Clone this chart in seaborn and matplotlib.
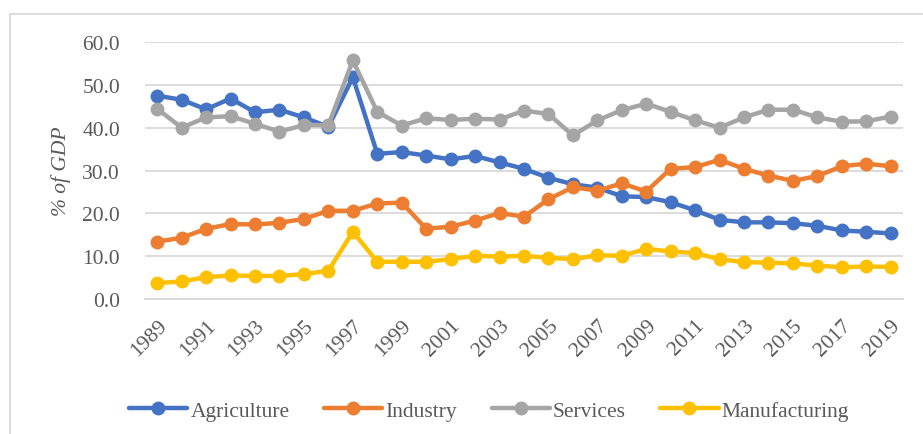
import numpy as np
import pandas as pd
import matplotlib
matplotlib.use('Agg')
import matplotlib.pyplot as plt
import seaborn as sns

years = list(range(1989, 2020))

agriculture = [47.5, 46.5, 44.3, 46.8, 43.6, 44.2, 42.4, 40.2, 51.8, 33.9,
               34.3, 33.5, 32.6, 33.4, 31.9, 30.4, 28.3, 26.8, 26.0, 24.0,
               23.8, 22.6, 20.7, 18.5, 17.9, 17.9, 17.7, 17.1, 16.0, 15.7, 15.3]
industry = [13.4, 14.3, 16.4, 17.5, 17.4, 17.8, 18.7, 20.6, 20.6, 22.3,
            22.5, 16.4, 16.9, 18.3, 20.1, 19.2, 23.3, 26.1, 25.3, 27.0,
            25.1, 30.4, 30.8, 32.5, 30.4, 28.8, 27.6, 28.7, 31.0, 31.6, 31.0]
services = [44.4, 40.0, 42.4, 42.7, 40.9, 39.1, 40.6, 40.6, 55.7, 43.7,
            40.5, 42.2, 41.8, 42.1, 41.9, 44.0, 43.2, 38.2, 41.7, 44.1,
            45.6, 43.7, 41.7, 40.0, 42.4, 44.2, 44.2, 42.4, 41.4, 41.5, 42.6]
manufacturing = [3.7, 4.1, 5.1, 5.5, 5.4, 5.4, 5.8, 6.6, 15.7, 8.7,
                 8.7, 8.7, 9.3, 10.1, 9.9, 10.1, 9.6, 9.3, 10.2, 10.1,
                 11.7, 11.1, 10.7, 9.3, 8.6, 8.5, 8.3, 7.8, 7.4, 7.6, 7.5]

series_names = ["Agriculture", "Industry", "Services", "Manufacturing"]
palette = ["#4472C4", "#ED7D31", "#A5A5A5", "#FFC000"]
y_ticks = [0, 10, 20, 30, 40, 50, 60]
x_ticks = years[::2]

df = pd.DataFrame({"year": years, "Agriculture": agriculture, "Industry": industry,
                   "Services": services, "Manufacturing": manufacturing})
long_df = df.melt(id_vars="year", var_name="sector", value_name="share")

sns.set_style("white")
plt.rcParams['font.family'] = ['Liberation Serif', 'DejaVu Serif']
text_col = "#595959"

fig = plt.figure(figsize=(9.23, 4.35), dpi=100)
ax = fig.add_axes([0.1571, 0.3103, 0.8212, 0.5908])

sns.lineplot(data=long_df, x="year", y="share", hue="sector", hue_order=series_names,
             palette=palette, marker="o", markersize=10, markeredgewidth=0,
             linewidth=3.2, ax=ax, legend=True)

ax.set_xlim(1988.5, 2019.5)
ax.set_ylim(0, 60)
ax.set_yticks(y_ticks)
ax.set_yticklabels([f"{v:.1f}" for v in y_ticks])
ax.set_xticks(x_ticks)
ax.set_xticklabels([str(y) for y in x_ticks], rotation=45, ha="right",
                   va="top", rotation_mode="anchor")
ax.tick_params(axis="y", length=0, pad=18, labelsize=15.5, labelcolor=text_col)
ax.tick_params(axis="x", length=0, pad=12, labelsize=15.5, labelcolor=text_col)
ax.yaxis.grid(True, color="#D9D9D9", linewidth=1.3)
ax.set_axisbelow(True)
for s in ["top", "right", "left"]:
    ax.spines[s].set_visible(False)
ax.spines["bottom"].set_color("#D9D9D9")
ax.spines["bottom"].set_linewidth(1.3)
ax.set_xlabel("")
ax.set_ylabel("% of GDP", fontsize=15.5, style="italic", color=text_col, labelpad=8)

handles, labels = ax.get_legend_handles_labels()
ax.get_legend().remove()
fig.legend(handles, labels, loc="center", bbox_to_anchor=(0.53, 0.053), ncol=4,
           frameon=False, fontsize=15.5, handlelength=2.7, handletextpad=0.15,
           columnspacing=1.6, labelcolor=text_col)

# chart-area frame as in the source spreadsheet
fig.patches.append(plt.Rectangle((10 / 923, -0.1), 1.2, 1 - 15 / 435 + 0.1,
                                 transform=fig.transFigure, fill=False,
                                 edgecolor="#D9D9D9", linewidth=1.3))

fig.savefig("out.png", dpi=100)
